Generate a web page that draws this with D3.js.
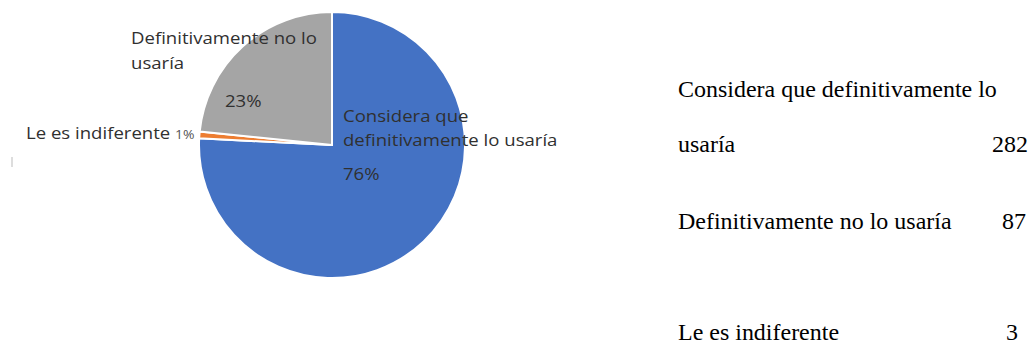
<!DOCTYPE html>
<html>
<head>
<meta charset="utf-8">
<script src="https://cdn.jsdelivr.net/npm/d3@7"></script>
<style>
  body { margin: 0; background: #fff; }
</style>
</head>
<body>
<div id="viz"></div>
<script>
// data
const categories = ["Considera que definitivamente lo usaría", "Le es indiferente", "Definitivamente no lo usaría"];
const counts = [282, 3, 87];
const colors = ["#4472C4", "#ED7D31", "#A5A5A5"];
const percentLabels = ["76%", "1%", "23%"];

// table on the right
const tableRows = [
  { lines: ["Considera que definitivamente lo", "usaría"], value: "282" },
  { lines: ["Definitivamente no lo usaría"], value: "87" },
  { lines: ["Le es indiferente"], value: "3" }
];

const svg = d3.select("#viz")
              .append("svg")
              .attr("width", 1029)
              .attr("height", 346);

const cx = 332, cy = 145, r = 133;

const pie = d3.pie().sort(null).value(d => d)(counts);
const arc = d3.arc().innerRadius(0).outerRadius(r);

const g = svg.append("g").attr("transform", `translate(${cx},${cy})`);

g.selectAll("path")
 .data(pie)
 .enter()
 .append("path")
 .attr("d", arc)
 .attr("fill", (d, i) => colors[i])
 .attr("stroke", "#fff")
 .attr("stroke-width", 2);

// stretch text horizontally around its anchor x
function stretch(sel, x, sx) {
  sel.attr("transform", `translate(${x},0) scale(${sx},1) translate(${-x},0)`);
}

// pie labels
const labelFont = "'Open Sans', sans-serif";
const labelColor = "#303030";
const labelSize = 16;

// measure to get the wide look of the original labels
const probe = svg.append("text")
  .style("font-family", labelFont)
  .style("font-size", labelSize + "px")
  .text("Definitivamente no lo");
const labelSx = 186 / probe.node().getComputedTextLength();
probe.remove();

function label(lines, x, y, size, lh) {
  const t = svg.append("text")
    .attr("x", x).attr("y", y)
    .style("font-family", labelFont)
    .style("font-size", size + "px")
    .attr("fill", labelColor);
  lines.forEach((l, i) => {
    t.append("tspan").attr("x", x).attr("y", y + i * lh).text(l);
  });
  stretch(t, x, labelSx);
  return t;
}

label(["Definitivamente no lo", "usaría"], 131, 44, labelSize, 25);
label([percentLabels[2]], 225, 107, labelSize, 0);
label(["Considera que", "definitivamente lo usaría"], 343, 122, labelSize, 24);
label([percentLabels[0]], 343, 180, labelSize, 0);

const le = svg.append("text")
  .attr("x", 26).attr("y", 139)
  .style("font-family", labelFont)
  .attr("fill", labelColor);
le.append("tspan").style("font-size", labelSize + "px").text(categories[1] + " ");
le.append("tspan").style("font-size", "12px").attr("fill", "#555").text(percentLabels[1]);
stretch(le, 26, labelSx);

// small artifact mark at left
svg.append("line")
   .attr("x1", 12).attr("x2", 12)
   .attr("y1", 157).attr("y2", 167)
   .attr("stroke", "#bbb")
   .attr("stroke-width", 1);

// table (size picked so the first line is as wide as in the original)
const serif = "'Liberation Serif', 'Times New Roman', serif";
const rowY = [97, 229, 340];
const valueX = [1028, 1026, 1018];

const probe2 = svg.append("text")
  .style("font-family", serif)
  .style("font-size", "20px")
  .text(tableRows[0].lines[0]);
const serifSize = 20 * 319 / probe2.node().getComputedTextLength();
probe2.remove();

tableRows.forEach((row, i) => {
  row.lines.forEach((l, j) => {
    svg.append("text")
       .attr("x", 678)
       .attr("y", rowY[i] + j * 55)
       .style("font-family", serif)
       .style("font-size", serifSize + "px")
       .attr("fill", "#000")
       .text(l);
  });
  svg.append("text")
     .attr("x", valueX[i])
     .attr("y", rowY[i] + (row.lines.length - 1) * 55)
     .attr("text-anchor", "end")
     .style("font-family", serif)
     .style("font-size", serifSize + "px")
     .attr("fill", "#000")
     .text(row.value);
});
</script>
</body>
</html>
